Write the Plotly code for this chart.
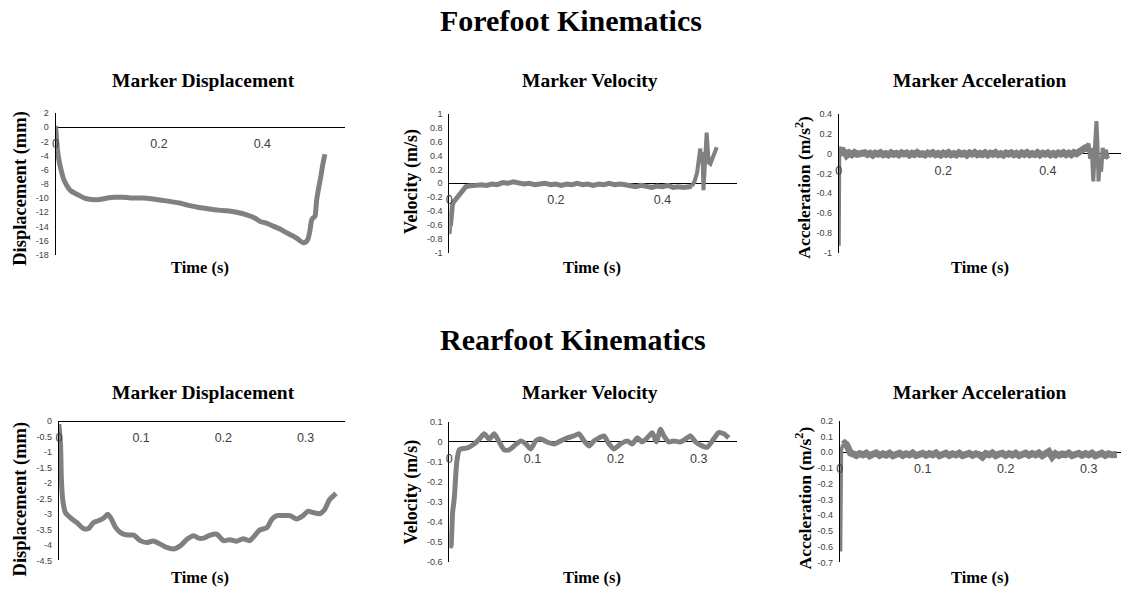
import plotly.graph_objects as go

W, H = 1121, 592

# ---------------- data ----------------
# Forefoot displacement (mm) vs time (s)
ff_disp_t = [0, 0.001, 0.004, 0.008, 0.012, 0.016, 0.020, 0.025, 0.030, 0.037, 0.045, 0.056, 0.070, 0.085,
             0.100, 0.114, 0.130, 0.153, 0.170, 0.185, 0.205, 0.223, 0.240, 0.255, 0.275, 0.294, 0.315,
             0.332, 0.350, 0.371, 0.385, 0.396, 0.410, 0.422, 0.435, 0.447, 0.458, 0.467, 0.474, 0.479,
             0.484, 0.488, 0.492, 0.495, 0.497, 0.500, 0.502, 0.505, 0.509, 0.513, 0.517, 0.521]
ff_disp_v = [0.2, -0.8, -3.4, -5.2, -6.4, -7.4, -8.0, -8.6, -9.0, -9.3, -9.6, -10.0, -10.2, -10.2,
             -10.0, -9.9, -9.9, -10.0, -10.0, -10.1, -10.3, -10.5, -10.7, -11.0, -11.3, -11.5, -11.7,
             -11.8, -12.0, -12.4, -12.8, -13.3, -13.6, -14.0, -14.4, -14.9, -15.3, -15.7, -16.1, -16.3,
             -16.2, -15.8, -14.6, -13.2, -12.9, -12.7, -12.5, -10.3, -8.5, -7.0, -5.2, -3.8]

# Forefoot velocity (m/s)
ff_vel_t = [0, 0.001, 0.002, 0.004, 0.006, 0.008, 0.011, 0.014, 0.017, 0.020, 0.024, 0.027, 0.031, 0.036,
            0.04, 0.05, 0.06, 0.07, 0.08, 0.09, 0.10, 0.11, 0.12, 0.13, 0.14, 0.15, 0.16, 0.17, 0.18,
            0.19, 0.20, 0.21, 0.22, 0.23, 0.24, 0.25, 0.26, 0.27, 0.28, 0.29, 0.30, 0.31, 0.32, 0.33,
            0.34, 0.35, 0.36, 0.37, 0.38, 0.39, 0.40, 0.41, 0.42, 0.43, 0.44, 0.45,
            0.455, 0.460, 0.465, 0.468, 0.471, 0.473, 0.475, 0.477, 0.479, 0.481, 0.483, 0.485, 0.487,
            0.490, 0.494, 0.498, 0.502]
ff_vel_v = [-0.68, -0.73, -0.62, -0.40, -0.30, -0.27, -0.24, -0.20, -0.17, -0.14, -0.10, -0.07, -0.05, -0.04,
            -0.04, -0.03, -0.02, -0.03, -0.01, -0.02, 0.01, 0.00, 0.02, 0.01, -0.01, 0.00, -0.02, -0.01,
            0.00, -0.02, -0.01, -0.03, -0.01, -0.02, 0.00, -0.02, -0.01, -0.03, -0.01, -0.02, 0.00,
            -0.02, -0.01, -0.02, -0.03, -0.05, -0.03, -0.04, -0.06, -0.04, -0.05, -0.03, -0.06, -0.05,
            -0.06, -0.05,
            -0.04, 0.02, 0.15, 0.30, 0.50, 0.30, 0.45, -0.10, 0.20, 0.60, 0.73, 0.50, 0.30,
            0.28, 0.35, 0.45, 0.52]

# Forefoot acceleration (m/s^2)
ff_acc_t = [0, 0.001, 0.002, 0.004, 0.006, 0.008, 0.010,
            0.015, 0.020, 0.025, 0.030, 0.035, 0.040, 0.045, 0.050, 0.055, 0.060,
            0.065, 0.070, 0.075, 0.080, 0.085, 0.090, 0.095, 0.100, 0.105, 0.110,
            0.115, 0.120, 0.125, 0.130, 0.135, 0.140, 0.145, 0.150, 0.155, 0.160,
            0.165, 0.170, 0.175, 0.180, 0.185, 0.190, 0.195, 0.200, 0.205, 0.210,
            0.215, 0.220, 0.225, 0.230, 0.235, 0.240, 0.245, 0.250, 0.255, 0.260,
            0.265, 0.270, 0.275, 0.280, 0.285, 0.290, 0.295, 0.300, 0.305, 0.310,
            0.315, 0.320, 0.325, 0.330, 0.335, 0.340, 0.345, 0.350, 0.355, 0.360,
            0.365, 0.370, 0.375, 0.380, 0.385, 0.390, 0.395, 0.400, 0.405, 0.410,
            0.415, 0.420, 0.425, 0.430, 0.435, 0.440, 0.445, 0.450, 0.455, 0.460,
            0.463, 0.466, 0.469, 0.472, 0.475, 0.478, 0.481, 0.484, 0.487, 0.490,
            0.493, 0.495, 0.497, 0.499, 0.502, 0.505, 0.508, 0.511, 0.514, 0.517]
ff_acc_v = [0.00, -0.93, 0.07, 0.03, 0.06, -0.02, 0.03,
            -0.015, 0.008, -0.01, 0.012, -0.005, 0.0, -0.012, 0.01, -0.008, 0.005,
            -0.014, 0.006, -0.004, 0.011, -0.01, 0.002, -0.012, 0.009, -0.006, 0.004,
            -0.011, 0.01, -0.003, 0.007, -0.013, 0.004, -0.008, 0.012, -0.006, 0.001,
            -0.012, 0.008, -0.004, 0.01, -0.01, 0.003, -0.013, 0.006, -0.007, 0.011,
            -0.009, 0.002, -0.012, 0.01, -0.005, 0.006, -0.014, 0.008, -0.004, 0.012,
            -0.01, 0.003, -0.008, 0.009, -0.012, 0.005, -0.006, 0.011, -0.01, 0.001,
            -0.013, 0.007, -0.004, 0.01, -0.009, 0.004, -0.012, 0.008, -0.006, 0.012,
            -0.01, 0.002, -0.008, 0.01, -0.012, 0.005, -0.005, 0.009, -0.011, 0.003,
            -0.012, 0.008, -0.004, 0.011, -0.009, 0.006, -0.01, 0.012, 0.0, 0.02,
            0.01, 0.03, 0.05, 0.02, 0.08, 0.10, -0.05, 0.06, -0.28, 0.05,
            0.33, 0.10, -0.28, -0.10, -0.18, 0.06, -0.05, 0.04, -0.03, -0.02]

# Rearfoot displacement (mm)
rf_disp_t = [0.000, 0.002, 0.003, 0.004, 0.005, 0.008, 0.014, 0.022, 0.030, 0.036, 0.042, 0.048, 0.055,
             0.059, 0.063, 0.069, 0.075, 0.083, 0.091, 0.099, 0.107, 0.115, 0.123, 0.131, 0.139, 0.148,
             0.156, 0.164, 0.170, 0.176, 0.184, 0.192, 0.200, 0.208, 0.216, 0.224, 0.232, 0.238, 0.244,
             0.253, 0.259, 0.265, 0.273, 0.281, 0.289, 0.297, 0.303, 0.309, 0.317, 0.323, 0.329, 0.337]
rf_disp_v = [-0.1, -0.74, -1.8, -2.33, -2.6, -2.96, -3.12, -3.28, -3.47, -3.47, -3.28, -3.22, -3.12,
             -3.01, -3.12, -3.43, -3.60, -3.68, -3.68, -3.86, -3.92, -3.87, -3.97, -4.08, -4.13, -4.02,
             -3.81, -3.70, -3.78, -3.78, -3.68, -3.65, -3.86, -3.83, -3.88, -3.80, -3.86, -3.70, -3.52,
             -3.44, -3.17, -3.05, -3.05, -3.05, -3.16, -3.05, -2.91, -2.95, -2.99, -2.86, -2.54, -2.33]

# Rearfoot velocity (m/s)
rf_vel_t = [0.000, 0.002, 0.004, 0.006, 0.009, 0.012, 0.014, 0.022, 0.030, 0.036, 0.042, 0.048, 0.054,
            0.060, 0.066, 0.072, 0.078, 0.086, 0.092, 0.098, 0.104, 0.110, 0.118, 0.126, 0.134, 0.142,
            0.150, 0.156, 0.162, 0.168, 0.174, 0.180, 0.186, 0.192, 0.198, 0.206, 0.214, 0.220, 0.226,
            0.232, 0.238, 0.244, 0.249, 0.254, 0.258, 0.264, 0.270, 0.278, 0.286, 0.290, 0.296, 0.304,
            0.310, 0.318, 0.324, 0.330, 0.336]
rf_vel_v = [-0.45, -0.52, -0.35, -0.28, -0.10, -0.04, -0.035, -0.03, -0.01, 0.014, 0.04, 0.014, 0.04,
            0.00, -0.04, -0.04, -0.02, 0.005, -0.01, -0.035, 0.005, 0.015, -0.002, -0.01, 0.005, 0.02,
            0.03, 0.04, 0.005, -0.02, 0.005, 0.02, 0.03, -0.01, -0.035, -0.01, 0.005, -0.01, 0.02,
            0.00, 0.02, 0.046, 0.00, 0.063, 0.03, 0.00, 0.005, 0.00, 0.02, 0.03, 0.00, -0.02,
            -0.027, 0.015, 0.046, 0.04, 0.02]

# Rearfoot acceleration (m/s^2)
rf_acc_t = [0.000, 0.001, 0.002, 0.004, 0.006, 0.008, 0.010, 0.013, 0.016,
            0.020, 0.024, 0.028, 0.032, 0.036, 0.040, 0.044, 0.048, 0.052, 0.056,
            0.060, 0.064, 0.068, 0.072, 0.076, 0.080, 0.084, 0.088, 0.092, 0.096,
            0.100, 0.104, 0.108, 0.112, 0.116, 0.120, 0.124, 0.128, 0.132, 0.136,
            0.140, 0.144, 0.148, 0.152, 0.156, 0.160, 0.164, 0.168, 0.172, 0.176,
            0.180, 0.184, 0.188, 0.192, 0.196, 0.200, 0.204, 0.208, 0.212, 0.216,
            0.220, 0.224, 0.228, 0.232, 0.236, 0.240, 0.244, 0.248, 0.252, 0.256,
            0.260, 0.264, 0.268, 0.272, 0.276, 0.280, 0.284, 0.288, 0.292, 0.296,
            0.300, 0.304, 0.308, 0.312, 0.316, 0.320, 0.324, 0.328, 0.332, 0.334]
rf_acc_v = [0.000, -0.63, 0.02, 0.05, 0.058, 0.05, 0.025, -0.005, -0.01,
            -0.02, -0.008, -0.016, -0.005, -0.022, -0.012, -0.004, -0.02, -0.01, -0.018,
            -0.006, -0.022, -0.012, -0.005, -0.02, -0.009, -0.017, -0.004, -0.021, -0.011,
            -0.006, -0.019, -0.008, -0.016, -0.004, -0.022, -0.012, -0.006, -0.02, -0.009,
            -0.017, -0.005, -0.021, -0.012, -0.006, -0.019, -0.009, -0.015, -0.03, -0.008,
            -0.016, -0.004, -0.021, -0.011, -0.006, -0.02, -0.008, -0.017, -0.005, -0.022,
            -0.01, -0.006, -0.019, -0.008, -0.016, -0.004, -0.021, -0.012, 0.005, -0.03,
            -0.008, -0.02, -0.01, -0.016, -0.005, -0.021, -0.011, -0.006, -0.019, -0.008,
            -0.016, -0.005, -0.022, -0.011, -0.006, -0.02, -0.009, -0.016, -0.01, -0.014]

# tick values / labels
ff_x_ticks = [0, 0.2, 0.4]
rf_x_ticks = [0, 0.1, 0.2, 0.3]
ff_disp_yticks = [2, 0, -2, -4, -6, -8, -10, -12, -14, -16, -18]
ff_vel_yticks = [1, 0.8, 0.6, 0.4, 0.2, 0, -0.2, -0.4, -0.6, -0.8, -1]
ff_acc_yticks = [0.4, 0.2, 0, -0.2, -0.4, -0.6, -0.8, -1]
rf_disp_yticks = [0, -0.5, -1, -1.5, -2, -2.5, -3, -3.5, -4, -4.5]
rf_vel_yticks = [0.1, 0, -0.1, -0.2, -0.3, -0.4, -0.5, -0.6]
rf_acc_yticks = [0.2, 0.1, 0.0, -0.1, -0.2, -0.3, -0.4, -0.5, -0.6, -0.7]
rf_acc_yticktext = ["0.2", "0.1", "0.0", "-0.1", "-0.2", "-0.3", "-0.4", "-0.5", "-0.6", "-0.7"]

# ---------------- layout geometry (pixels) ----------------
SERIF = "Liberation Serif, Times New Roman, serif"
SANS = "Liberation Sans, Arial, sans-serif"
GRAY = "#808080"

# segments: list of (start index, end index, line width) drawn from the series
panels = [
    # t, v, xrange, yrange, x pixel domain, y pixel domain (top, bottom), xticks, yticks, yticktext, segments, smooth
    (ff_disp_t, ff_disp_v, [0, 0.56], [-18, 2], (52.7, 343), (110, 254), ff_x_ticks, ff_disp_yticks, None,
     [(0, None, 5)], True),
    (ff_vel_t, ff_vel_v, [0, 0.54], [-1, 1], (447.5, 736), (110.7, 252), ff_x_ticks, ff_vel_yticks, None,
     [(0, 3, 3.5), (2, 57, 5), (56, None, 4)], False),
    (ff_acc_t, ff_acc_v, [0, 0.54], [-1, 0.4], (838, 1121), (111, 252), ff_x_ticks, ff_acc_yticks, None,
     [(0, 4, 3), (3, 101, 7), (100, None, 4)], False),
    (rf_disp_t, rf_disp_v, [0, 0.348], [-4.5, 0], (56, 343), (423.3, 565), rf_x_ticks, rf_disp_yticks, None,
     [(0, None, 5)], True),
    (rf_vel_t, rf_vel_v, [0, 0.346], [-0.6, 0.1], (447.5, 736), (424, 566.7), rf_x_ticks, rf_vel_yticks, None,
     [(0, None, 5)], True),
    (rf_acc_t, rf_acc_v, [0, 0.339], [-0.7, 0.2], (839, 1121), (423, 567), rf_x_ticks, rf_acc_yticks,
     rf_acc_yticktext, [(0, 4, 3.5), (3, None, 7)], False),
]


def lab(v):
    return f"{v:g}"


fig = go.Figure()
layout = {}
for i, (t, v, xr, yr, xd, yd, xt, yt, ytt, segs, smooth) in enumerate(panels, start=1):
    sx = "" if i == 1 else str(i)
    for a, b, lw in segs:
        line = dict(color=GRAY, width=lw)
        if smooth:
            line.update(shape="spline", smoothing=0.6)
        fig.add_trace(go.Scatter(x=t[a:b], y=v[a:b], mode="lines", line=line,
                                 xaxis="x" + sx, yaxis="y" + sx, showlegend=False,
                                 hoverinfo="skip"))
    ydom = [1 - yd[1] / H, 1 - yd[0] / H]
    xdom = [xd[0] / W, min(xd[1] / W, 1.0)]
    # position of the x axis at the y=0 crossing, through the y scale
    zero_pos = ydom[0] + (0 - yr[0]) / (yr[1] - yr[0]) * (ydom[1] - ydom[0])
    layout["xaxis" + sx] = dict(
        domain=xdom, range=xr, anchor="free", position=zero_pos,
        tickvals=xt, ticktext=[lab(x) for x in xt],
        showgrid=False, zeroline=False, showline=False,
        ticks="outside", ticklen=5, tickcolor="rgba(0,0,0,0)",
        tickfont=dict(family=SANS, size=12.5, color="#404040"),
    )
    layout["yaxis" + sx] = dict(
        domain=ydom, range=yr, anchor="x" + sx,
        tickvals=yt, ticktext=ytt if ytt else [lab(y) for y in yt],
        showgrid=False, zeroline=True, zerolinecolor="black", zerolinewidth=1,
        showline=True, linecolor="black", linewidth=1,
        ticks="outside", ticklen=4, tickcolor="rgba(0,0,0,0)",
        tickfont=dict(family=SANS, size=9, color="#404040"),
    )

annotations = []


def ann(text, x, y, size, angle=0):
    annotations.append(dict(text=text, x=x / W, y=1 - y / H, xref="paper", yref="paper",
                            showarrow=False, textangle=angle, xanchor="center", yanchor="middle",
                            font=dict(family=SERIF, size=size, color="black")))


ann("<b>Forefoot Kinematics</b>", 570, 16, 30)
ann("<b>Rearfoot Kinematics</b>", 572, 340, 30)
sub_titles = ["Marker Displacement", "Marker Velocity", "Marker Acceleration"]
sub_x = [201, 589, 980]
for name, x in zip(sub_titles, sub_x):
    ann(f"<b>{name}</b>", x, 77, 19.5)
    ann(f"<b>{name}</b>", x, 394, 19.5)
for x in [198, 591, 980]:
    ann("<b>Time (s)</b>", x, 267, 16.5)
    ann("<b>Time (s)</b>", x, 582, 16.5)
ylabels = ["Displacement (mm)", "Velocity (m/s)", "Acceleration (m/s<sup>2</sup>)"]
ylsize = [18.5, 18, 17.5]
ylx = [18, 410, 802]
yly_top = [186, 179, 185]
yly_bot = [502, 495, 501]
for name, s, x, y1, y2 in zip(ylabels, ylsize, ylx, yly_top, yly_bot):
    ann(f"<b>{name}</b>", x, y1, s, -90)
    ann(f"<b>{name}</b>", x, y2, s, -90)

fig.update_layout(**layout)
fig.update_layout(width=W, height=H, margin=dict(l=0, r=0, t=0, b=0),
                  paper_bgcolor="white", plot_bgcolor="white",
                  annotations=annotations, showlegend=False)
fig.write_html("out.html", config={"displayModeBar": False},
               post_script="document.body.style.margin='0';")
